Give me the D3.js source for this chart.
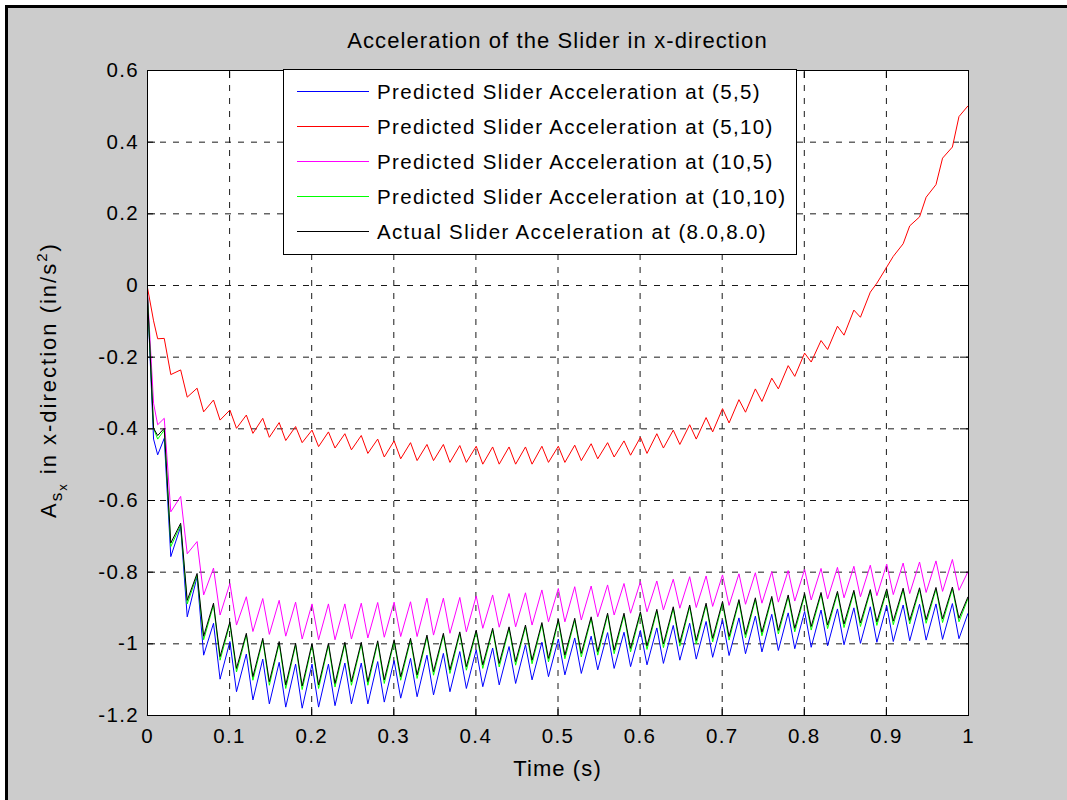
<!DOCTYPE html>
<html><head><meta charset="utf-8">
<script src="https://cdn.jsdelivr.net/npm/d3@7"></script>
<style>
body{margin:0;background:#fff;}
svg{display:block;font-family:"Liberation Sans",Arial,Helvetica,sans-serif;}
</style></head><body><svg id="c" width="1067" height="800"></svg>
<script>
// ---------- data ----------
const titleText = "Acceleration of the Slider in x-direction";
const xLabelText = "Time (s)";
const xTicks = [0, 0.1, 0.2, 0.3, 0.4, 0.5, 0.6, 0.7, 0.8, 0.9, 1];
const yTicks = [-1.2, -1, -0.8, -0.6, -0.4, -0.2, 0, 0.2, 0.4, 0.6];
const seriesNames = [
  "Predicted Slider Acceleration at (5,5)",
  "Predicted Slider Acceleration at (5,10)",
  "Predicted Slider Acceleration at (10,5)",
  "Predicted Slider Acceleration at (10,10)",
  "Actual Slider Acceleration at (8.0,8.0)"
];
const seriesColors = ["#0000ff", "#ff0000", "#ff00ff", "#00ff00", "#000000"];

const time = [
  0, 0.008, 0.013,
  0.021,0.029, 0.041,0.049, 0.061,0.069, 0.081,0.089, 0.101,0.109,
  0.121,0.129, 0.141,0.149, 0.161,0.169, 0.181,0.189, 0.201,0.209,
  0.221,0.229, 0.241,0.249, 0.261,0.269, 0.281,0.289, 0.301,0.309,
  0.321,0.329, 0.341,0.349, 0.361,0.369, 0.381,0.389, 0.401,0.409,
  0.421,0.429, 0.441,0.449, 0.461,0.469, 0.481,0.489, 0.501,0.509,
  0.521,0.529, 0.541,0.549, 0.561,0.569, 0.581,0.589, 0.601,0.609,
  0.621,0.629, 0.641,0.649, 0.661,0.669, 0.681,0.689, 0.701,0.709,
  0.721,0.729, 0.741,0.749, 0.761,0.769, 0.781,0.789, 0.801,0.809,
  0.821,0.829, 0.841,0.849, 0.861,0.869, 0.881,0.889, 0.901,0.909,
  0.921,0.929, 0.941,0.949, 0.961,0.969, 0.981,0.989,
  1.0
];

const accel55 = [
  0, -0.43, -0.474,
  -0.428,-0.758, -0.674,-0.926, -0.814,-1.033, -0.944,-1.10, -0.995,-1.135,
  -1.03,-1.158, -1.044,-1.169, -1.053,-1.178, -1.058,-1.181, -1.058,-1.178,
  -1.058,-1.174, -1.055,-1.169, -1.055,-1.169, -1.051,-1.164, -1.048,-1.153,
  -1.042,-1.149, -1.033,-1.144, -1.028,-1.135, -1.023,-1.126, -1.018,-1.121,
  -1.013,-1.116, -1.009,-1.112, -1.004,-1.102, -0.997,-1.093, -0.988,-1.088,
  -0.985,-1.084, -0.98,-1.074, -0.97,-1.07, -0.969,-1.065, -0.964,-1.06,
  -0.957,-1.056, -0.95,-1.047, -0.944,-1.044, -0.939,-1.039, -0.934,-1.034,
  -0.929,-1.029, -0.924,-1.024, -0.919,-1.02, -0.915,-1.015, -0.911,-1.011,
  -0.907,-1.007, -0.904,-1.004, -0.901,-1.0, -0.898,-0.997, -0.895,-0.995,
  -0.893,-0.993, -0.891,-0.991, -0.89,-0.989, -0.889,-0.987,
  -0.916
];

const accel510 = [
  0, -0.10, -0.15,
  -0.149,-0.25, -0.237,-0.313, -0.288,-0.354, -0.321,-0.377, -0.349,-0.40,
  -0.363,-0.414, -0.372,-0.425, -0.384,-0.434, -0.395,-0.44, -0.405,-0.451,
  -0.41,-0.455, -0.415,-0.46, -0.42,-0.47, -0.43,-0.48, -0.435,-0.485,
  -0.44,-0.49, -0.445,-0.49, -0.445,-0.495, -0.448,-0.495, -0.45,-0.5,
  -0.452,-0.5, -0.452,-0.5, -0.452,-0.5, -0.45,-0.495, -0.45,-0.495,
  -0.447,-0.49, -0.443,-0.485, -0.44,-0.48, -0.435,-0.475, -0.425,-0.47,
  -0.415,-0.455, -0.405,-0.445, -0.39,-0.43, -0.37,-0.41, -0.345,-0.385,
  -0.32,-0.355, -0.29,-0.325, -0.26,-0.29, -0.225,-0.255, -0.19,-0.215,
  -0.155,-0.18, -0.115,-0.14, -0.07,-0.09, -0.02,0.005, 0.05,0.08,
  0.115,0.165, 0.19,0.245, 0.28,0.354, 0.385,0.47,
  0.5
];

const accel105 = [
  0, -0.33, -0.39,
  -0.372,-0.633, -0.59,-0.75, -0.716,-0.865, -0.79,-0.921, -0.833,-0.949,
  -0.87,-0.967, -0.875,-0.975, -0.88,-0.98, -0.885,-0.988, -0.89,-0.99,
  -0.89,-0.99, -0.89,-0.988, -0.888,-0.985, -0.886,-0.983, -0.885,-0.981,
  -0.884,-0.981, -0.874,-0.977, -0.874,-0.972, -0.872,-0.968, -0.868,-0.958,
  -0.865,-0.955, -0.861,-0.954, -0.859,-0.949, -0.851,-0.94, -0.847,-0.94,
  -0.842,-0.935, -0.84,-0.926, -0.837,-0.921, -0.833,-0.916, -0.828,-0.912,
  -0.826,-0.907, -0.821,-0.902, -0.814,-0.9, -0.812,-0.897, -0.809,-0.894,
  -0.806,-0.891, -0.803,-0.888, -0.8,-0.885, -0.797,-0.882, -0.794,-0.879,
  -0.791,-0.876, -0.788,-0.873, -0.785,-0.87, -0.782,-0.867, -0.779,-0.864,
  -0.776,-0.861, -0.773,-0.858, -0.77,-0.855, -0.766,-0.852,
  -0.80
];

const accel1010 = [
  0, -0.40, -0.43,
  -0.405,-0.73, -0.67,-0.89, -0.81,-0.99, -0.893,-1.047, -0.945,-1.08,
  -0.977,-1.103, -0.991,-1.117, -1.0,-1.126, -1.005,-1.129, -1.005,-1.126,
  -1.005,-1.122, -1.002,-1.117, -1.002,-1.117, -0.998,-1.112, -0.995,-1.103,
  -0.991,-1.098, -0.982,-1.089, -0.977,-1.084, -0.973,-1.075, -0.968,-1.07,
  -0.963,-1.066, -0.959,-1.061, -0.954,-1.057, -0.947,-1.052, -0.938,-1.043,
  -0.935,-1.038, -0.931,-1.033, -0.921,-1.029, -0.921,-1.024, -0.917,-1.017,
  -0.91,-1.012, -0.903,-1.008, -0.898,-1.002, -0.893,-0.996, -0.888,-0.991,
  -0.883,-0.985, -0.878,-0.979, -0.874,-0.974, -0.87,-0.968, -0.866,-0.963,
  -0.863,-0.959, -0.86,-0.956, -0.857,-0.953, -0.855,-0.95, -0.853,-0.948,
  -0.851,-0.946, -0.85,-0.944, -0.849,-0.942, -0.848,-0.94,
  -0.875
];

const accelActual = [
  0, -0.40, -0.42,
  -0.40,-0.72, -0.665,-0.88, -0.805,-0.98, -0.888,-1.037, -0.94,-1.07,
  -0.972,-1.093, -0.986,-1.107, -0.995,-1.116, -1.0,-1.119, -1.0,-1.116,
  -1.0,-1.112, -0.997,-1.107, -0.997,-1.107, -0.993,-1.102, -0.99,-1.093,
  -0.986,-1.088, -0.977,-1.079, -0.972,-1.074, -0.968,-1.065, -0.963,-1.06,
  -0.958,-1.056, -0.954,-1.051, -0.949,-1.047, -0.942,-1.042, -0.933,-1.033,
  -0.93,-1.028, -0.926,-1.023, -0.916,-1.019, -0.916,-1.014, -0.912,-1.007,
  -0.905,-1.002, -0.898,-0.998, -0.893,-0.992, -0.888,-0.986, -0.883,-0.981,
  -0.878,-0.975, -0.873,-0.969, -0.869,-0.964, -0.865,-0.958, -0.861,-0.953,
  -0.858,-0.949, -0.855,-0.946, -0.852,-0.943, -0.85,-0.94, -0.848,-0.938,
  -0.846,-0.936, -0.845,-0.934, -0.844,-0.932, -0.843,-0.93,
  -0.87
];

const seriesValues = [accel55, accel510, accel105, accel1010, accelActual];

// ---------- drawing ----------
const W = 1067, H = 800;
const m = {l: 147, r: 968, t: 70, b: 715};
const FS = 20.5, LS = "1.35px";      // tick labels and legend
const FL = 22, LSL = "1.1px";        // title and axis labels
const svg = d3.select("#c");

svg.append("rect").attr("x", 5).attr("y", 5).attr("width", W - 5).attr("height", H - 5).attr("fill", "#cccccc");
svg.append("path").attr("d", `M6.5,${H}V6.5H${W}`).attr("fill", "none").attr("stroke", "#000").attr("stroke-width", 3);

const x = d3.scaleLinear().domain([0, 1]).range([m.l, m.r]);
const y = d3.scaleLinear().domain([-1.2, 0.6]).range([m.b, m.t]);

svg.append("rect").attr("x", m.l).attr("y", m.t).attr("width", m.r - m.l).attr("height", m.b - m.t).attr("fill", "#fff");

// grid
const gridStyle = g => { g.select(".domain").remove(); g.selectAll("line").attr("stroke", "#1a1a1a").attr("stroke-dasharray", "6,7"); g.selectAll("text").remove(); };
svg.append("g").attr("transform", `translate(0,${m.b})`)
  .call(d3.axisBottom(x).tickValues(xTicks.filter(v => v > 0 && v < 1)).tickSize(-(m.b - m.t)).tickFormat(""))
  .call(gridStyle);
svg.append("g").attr("transform", `translate(${m.l},0)`)
  .call(d3.axisLeft(y).tickValues(yTicks.filter(v => v > -1.2 && v < 0.6)).tickSize(-(m.r - m.l)).tickFormat(""))
  .call(gridStyle);

// lines
svg.append("clipPath").attr("id", "clip").append("rect")
  .attr("x", m.l).attr("y", m.t).attr("width", m.r - m.l).attr("height", m.b - m.t);
const line = d3.line().x(d => x(d[0])).y(d => y(d[1]));
const lg = svg.append("g").attr("clip-path", "url(#clip)");
seriesValues.forEach((vals, i) => {
  lg.append("path").datum(time.map((t, j) => [t, vals[j]]))
    .attr("fill", "none").attr("stroke", seriesColors[i]).attr("stroke-width", 1)
    .attr("stroke-linejoin", "round").attr("d", line);
});

// axes (ticks inside, MATLAB style)
const fmt = d => String(d);
const axStyle = g => {
  g.attr("font-size", FS).attr("font-family", null).style("letter-spacing", LS);
  g.select(".domain").remove();
  g.selectAll("line").attr("stroke", "#000");
  g.selectAll("text").attr("fill", "#000");
};
svg.append("g").attr("transform", `translate(0,${m.b})`)
  .call(d3.axisBottom(x).tickValues(xTicks).tickSizeInner(-8).tickSizeOuter(0).tickPadding(13).tickFormat(fmt)).call(axStyle);
svg.append("g").attr("transform", `translate(0,${m.t})`)
  .call(d3.axisTop(x).tickValues(xTicks).tickSizeInner(-8).tickSizeOuter(0).tickFormat("")).call(axStyle);
svg.append("g").attr("transform", `translate(${m.l},0)`)
  .call(d3.axisLeft(y).tickValues(yTicks).tickSizeInner(-8).tickSizeOuter(0).tickPadding(8).tickFormat(fmt)).call(axStyle);
svg.append("g").attr("transform", `translate(${m.r},0)`)
  .call(d3.axisRight(y).tickValues(yTicks).tickSizeInner(-8).tickSizeOuter(0).tickFormat("")).call(axStyle);

// box
svg.append("rect").attr("x", m.l + 0.5).attr("y", m.t + 0.5).attr("width", m.r - m.l).attr("height", m.b - m.t)
  .attr("fill", "none").attr("stroke", "#000").attr("stroke-width", 1);

// title and labels
svg.append("text").attr("x", (m.l + m.r) / 2).attr("y", 48).attr("text-anchor", "middle")
  .attr("font-size", FL).style("letter-spacing", LSL).text(titleText);
svg.append("text").attr("x", (m.l + m.r) / 2).attr("y", 776).attr("text-anchor", "middle")
  .attr("font-size", FL).style("letter-spacing", LSL).text(xLabelText);

const yl = svg.append("text").attr("transform", `translate(56,518) rotate(-90)`)
  .attr("text-anchor", "start").attr("font-size", FL).style("letter-spacing", "2px");
yl.append("tspan").text("A");
yl.append("tspan").attr("font-size", 17).attr("dy", 6).text("s");
yl.append("tspan").attr("font-size", 13).attr("dy", 5).text("x");
yl.append("tspan").attr("dy", -11).text(" in x-direction (in/s");
yl.append("tspan").attr("font-size", 15).attr("dy", -9).text("2");
yl.append("tspan").attr("dy", 9).text(")");

// legend
const leg = {x: 283, y: 69, w: 513, h: 185};
svg.append("rect").attr("x", leg.x + 0.5).attr("y", leg.y + 0.5).attr("width", leg.w).attr("height", leg.h)
  .attr("fill", "#fff").attr("stroke", "#000").attr("stroke-width", 1);
const rowY = d3.scaleLinear().domain([0, 4]).range([90.5, 231]);
seriesNames.forEach((name, i) => {
  const ry = Math.round(rowY(i)) + 0.5;
  svg.append("line").attr("x1", 297).attr("x2", 369).attr("y1", ry).attr("y2", ry)
    .attr("stroke", seriesColors[i]).attr("stroke-width", 1);
  svg.append("text").attr("x", 377).attr("y", ry + 7.5).attr("font-size", FS)
    .style("letter-spacing", LS).text(name);
});
</script></body></html>
